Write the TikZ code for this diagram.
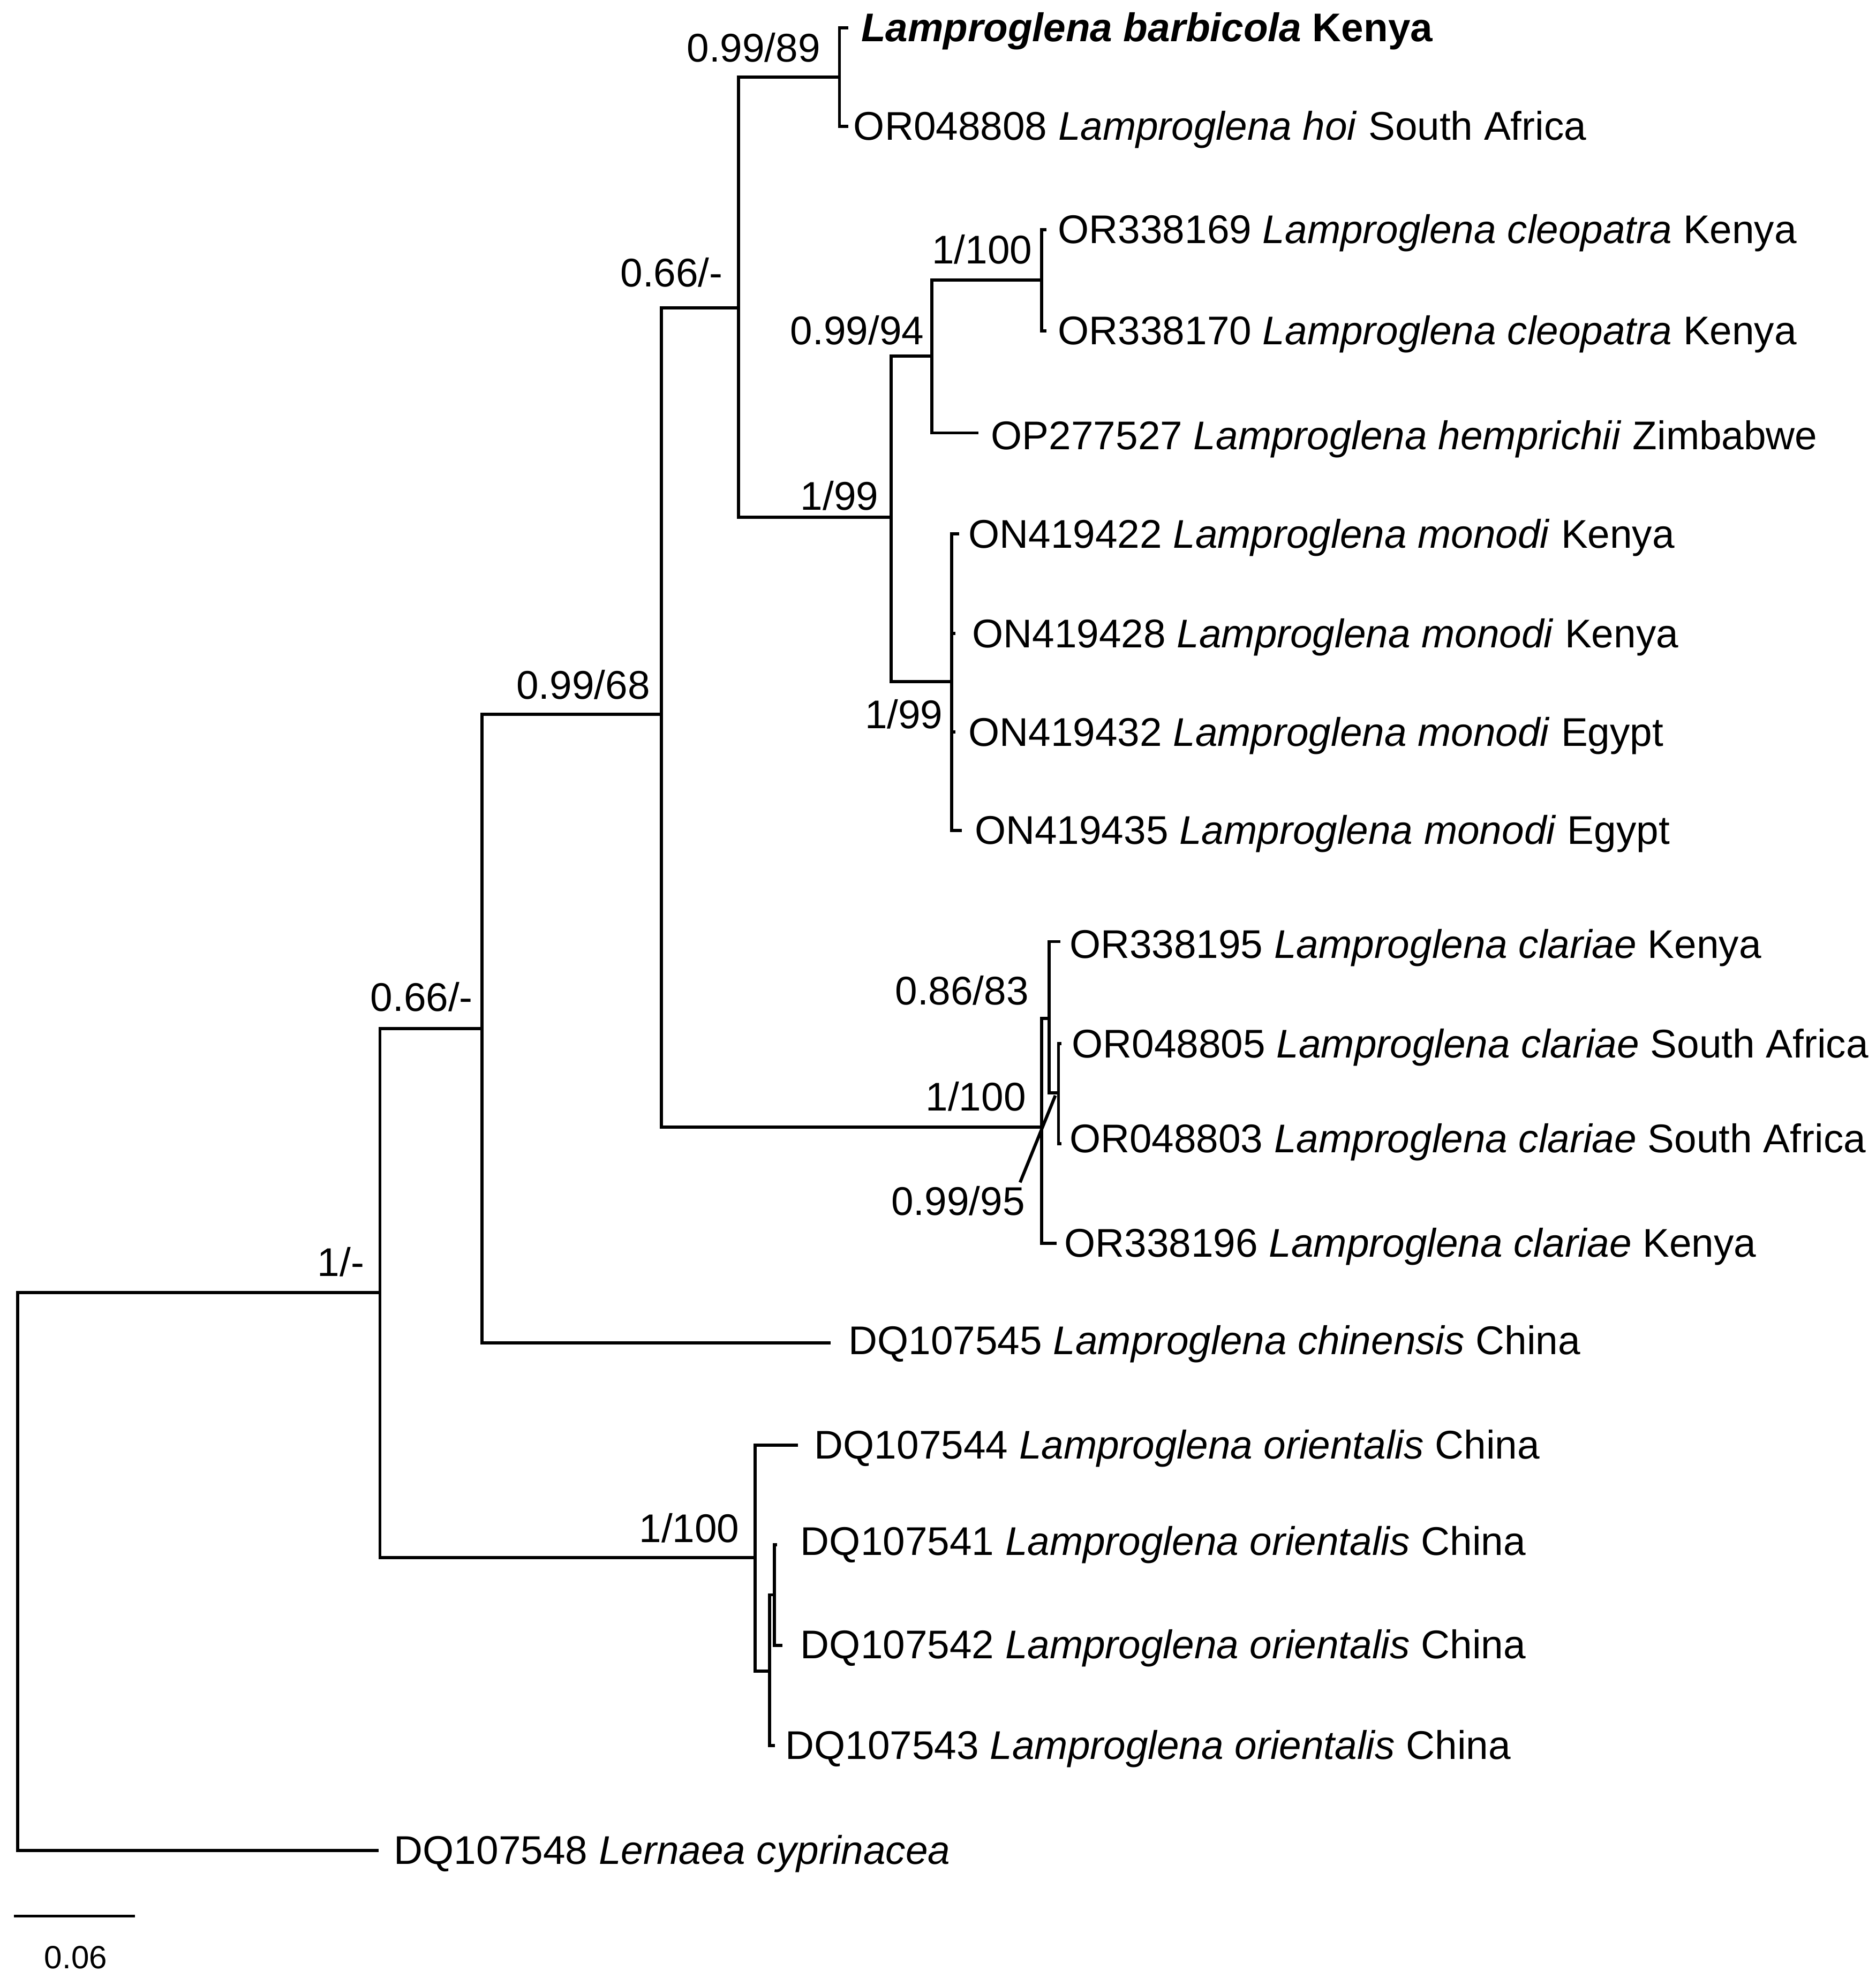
\documentclass[tikz,border=0pt]{standalone}
\usepackage{fontspec}
\setmainfont{Liberation Sans}
\begin{document}
\begin{tikzpicture}[x=1pt,y=-1pt,
  br/.style={line width=2.5pt,line join=miter,line cap=butt},
  taxon/.style={anchor=base west,inner sep=0pt,font=\fontsize{31.7}{38}\selectfont},
  supp/.style={anchor=base,inner sep=0pt,font=\fontsize{31.7}{38}\selectfont}]
\useasboundingbox (0,0) rectangle (1486,1568);
% internal nodes
\coordinate (R) at (14,1245);
\coordinate (N1) at (301,1024);
\coordinate (N2) at (382,815);
\coordinate (N3) at (524,566);
\coordinate (N4) at (585,244);
\coordinate (N5) at (665,61);
\coordinate (N6) at (706,410);
\coordinate (N7) at (738,282);
\coordinate (N8) at (825,222);
\coordinate (N9) at (754,540);
\coordinate (N10) at (825,893);
\coordinate (N11) at (831,807);
\coordinate (N12) at (838.5,866);
\coordinate (N13) at (598,1234);
\coordinate (N14) at (609.7,1324);
\coordinate (N15) at (613.6,1263.6);
% tips
\coordinate (lern) at (300,1466);
\coordinate (chin) at (658,1064);
\coordinate (barb) at (672,22);
\coordinate (hoi) at (672,100);
\coordinate (cle1) at (829,182);
\coordinate (cle2) at (829,262);
\coordinate (hemp) at (775,343);
\coordinate (m1) at (760,423);
\coordinate (m2) at (757,502);
\coordinate (m3) at (757,580);
\coordinate (m4) at (762,658);
\coordinate (c1) at (840,746);
\coordinate (c2) at (841,827);
\coordinate (c3) at (841,906);
\coordinate (c4) at (837,985);
\coordinate (o1) at (632,1145);
\coordinate (o2) at (615.4,1224);
\coordinate (o3) at (619.8,1303.7);
\coordinate (o4) at (614,1383);
% branches
\draw[br] (N1) -| (R) |- (lern);
\draw[br] (N2) -| (N1) |- (N13);
\draw[br] (N3) -| (N2) |- (chin);
\draw[br] (N4) -| (N3) |- (N10);
\draw[br] (N5) -| (N4) |- (N6);
\draw[br] (barb) -| (N5) |- (hoi);
\draw[br] (N7) -| (N6) |- (N9);
\draw[br] (N8) -| (N7) |- (hemp);
\draw[br] (cle1) -| (N8) |- (cle2);
\draw[br] (m1) -| (N9) |- (m4);
\draw[br] (N9 |- m2) -- (m2);
\draw[br] (N9 |- m3) -- (m3);
\draw[br] (N11) -| (N10) |- (c4);
\draw[br] (c1) -| (N11) |- (N12);
\draw[br] (c2) -| (N12) |- (c3);
\draw[br] (o1) -| (N13) |- (N14);
\draw[br] (N15) -| (N14) |- (o4);
\draw[br] (o2) -| (N15) |- (o3);
% taxon labels
\node[taxon] (tbarb) at (682,33) {\textbf{\textit{Lamproglena barbicola}} \textbf{Kenya}};
\node[taxon] (thoi) at (676,111) {OR048808 \textit{Lamproglena hoi} South Africa};
\node[taxon] (tcle1) at (838,193) {OR338169 \textit{Lamproglena cleopatra} Kenya};
\node[taxon] (tcle2) at (838,273) {OR338170 \textit{Lamproglena cleopatra} Kenya};
\node[taxon] (themp) at (785,356) {OP277527 \textit{Lamproglena hemprichii} Zimbabwe};
\node[taxon] (tm1) at (767,434) {ON419422 \textit{Lamproglena monodi} Kenya};
\node[taxon] (tm2) at (770,513) {ON419428 \textit{Lamproglena monodi} Kenya};
\node[taxon] (tm3) at (767,591) {ON419432 \textit{Lamproglena monodi} Egypt};
\node[taxon] (tm4) at (772,669) {ON419435 \textit{Lamproglena monodi} Egypt};
\node[taxon] (tc1) at (847,759) {OR338195 \textit{Lamproglena clariae} Kenya};
\node[taxon] (tc2) at (849,838) {OR048805 \textit{Lamproglena clariae} South Africa};
\node[taxon] (tc3) at (847,913) {OR048803 \textit{Lamproglena clariae} South Africa};
\node[taxon] (tc4) at (843,996) {OR338196 \textit{Lamproglena clariae} Kenya};
\node[taxon] (tchin) at (672,1073) {DQ107545 \textit{Lamproglena chinensis} China};
\node[taxon] (to1) at (645,1156) {DQ107544 \textit{Lamproglena orientalis} China};
\node[taxon] (to2) at (634,1232) {DQ107541 \textit{Lamproglena orientalis} China};
\node[taxon] (to3) at (634,1314) {DQ107542 \textit{Lamproglena orientalis} China};
\node[taxon] (to4) at (622,1394) {DQ107543 \textit{Lamproglena orientalis} China};
\node[taxon] (tlern) at (312,1477) {DQ107548 \textit{Lernaea cyprinacea}};
% support values
\node[supp] (s5) at (597,49) {0.99/89};
\node[supp] (s4) at (532,227) {0.66/-};
\node[supp] (s8) at (778,209) {1/100};
\node[supp] (s7) at (679,273) {0.99/94};
\node[supp] (s6) at (665,404) {1/99};
\node[supp] (s9) at (716,577) {1/99};
\node[supp] (s3) at (462,554) {0.99/68};
\node[supp] (s11) at (762,796) {0.86/83};
\node[supp] (s10) at (773,880) {1/100};
\node[supp] (s12) at (759,963) {0.99/95};
\node[supp] (s2) at (334,801) {0.66/-};
\node[supp] (s1) at (270,1011) {1/-};
\node[supp] (s13) at (546,1222) {1/100};
\coordinate (lead) at (836,868);
\draw[line width=2.5pt] (lead) -- ([xshift=-4pt,yshift=3pt]s12.north east);
% scale bar
\coordinate (sb1) at (11,1518);
\coordinate (sb2) at (107,1518);
\draw[line width=2pt] (sb1) -- (sb2);
\node[inner sep=0pt,font=\fontsize{25.5}{30}\selectfont] (sbl) at (60,1551) {0.06};
\end{tikzpicture}
\end{document}
